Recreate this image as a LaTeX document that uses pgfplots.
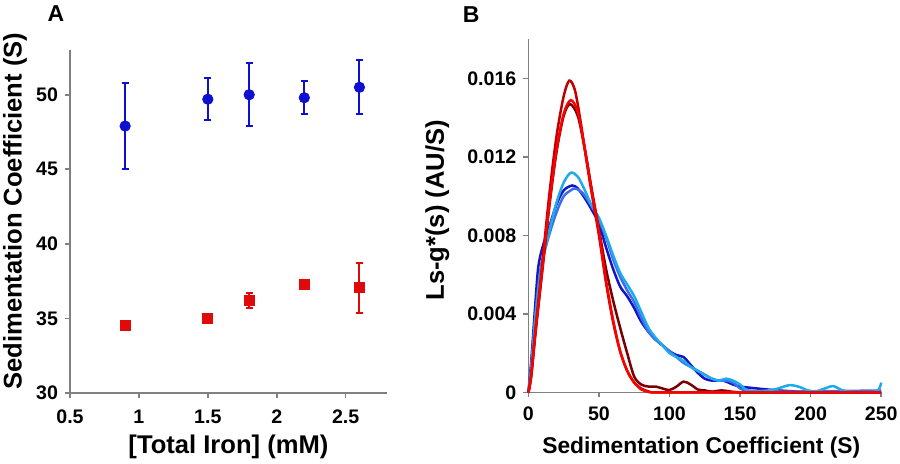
\documentclass[border=0pt]{standalone}
\usepackage{fontspec}
\setmainfont{Liberation Sans}
\usepackage{pgfplots}
\pgfplotsset{compat=1.18}

\definecolor{ptblue}{RGB}{15,15,210}
\definecolor{ptred}{RGB}{225,10,10}
\definecolor{crimson}{RGB}{190,0,0}
\definecolor{brightred}{RGB}{250,0,0}
\definecolor{maroon}{RGB}{120,0,0}
\definecolor{skyblue}{RGB}{30,170,235}
\definecolor{deepblue}{RGB}{20,20,200}
\definecolor{midblue}{RGB}{60,110,235}

\pgfplotsset{
  panel/.style={
    scale only axis, anchor=south west,
    axis lines*=left,
    axis line style={-, gray, line width=0.8pt},
    tick align=outside, major tick length=2.5pt,
    tick style={gray, line width=0.8pt},
    tick label style={font=\fontsize{9.8}{10}\selectfont\bfseries, black},
    /pgf/number format/assume math mode=true,
    label style={font=\fontsize{12.8}{13}\selectfont\bfseries},
    clip=false,
  },
}

\begin{document}
\begin{tikzpicture}
\path[use as bounding box] (0,0) rectangle (450pt,232pt);

% panel A
\begin{axis}[panel,
  at={(35pt,35.5pt)}, width=158.5pt, height=171.5pt,
  xmin=0.5, xmax=2.8, ymin=30, ymax=53,
  xtick={0.5,1,1.5,2,2.5}, xticklabels={0.5,1,1.5,2,2.5},
  ytick={30,35,40,45,50}, yticklabels={30,35,40,45,50},
  xticklabel style={yshift=-2.5pt},
  xlabel={[Total Iron] (mM)},
  ylabel={Sedimentation Coefficient (S)},
  xlabel style={at={(axis description cs:0.5,-0.157)}, anchor=center},
  ylabel style={at={(axis description cs:-0.1735,0.53)}, anchor=center},
]
\addplot[only marks, mark=*, mark size=2.6pt, color=ptblue,
  error bars/.cd, y dir=both, y explicit,
  error bar style={line width=1pt, ptblue},
  error mark options={rotate=90, mark size=1.8pt, line width=1pt, ptblue}]
  coordinates {
  (0.9,47.9) +- (0,2.9)
  (1.5,49.7) +- (0,1.4)
  (1.8,50.0) +- (0,2.1)
  (2.2,49.8) +- (0,1.1)
  (2.6,50.5) +- (0,1.8)
};
\addplot[only marks, mark=square*, mark size=2.5pt, color=ptred,
  error bars/.cd, y dir=both, y explicit,
  error bar style={line width=1pt, ptred},
  error mark options={rotate=90, mark size=1.8pt, line width=1pt, ptred}]
  coordinates {
  (0.9,34.5) +- (0,0.15)
  (1.5,35.0) +- (0,0.1)
  (1.8,36.2) +- (0,0.5)
  (2.2,37.3) +- (0,0.2)
  (2.6,37.05) +- (0,1.7)
};
\node[font=\fontsize{11.5}{12}\selectfont\bfseries] at (axis description cs:-0.044,1.105) {A};
\end{axis}

% panel B
\begin{axis}[panel,
  at={(264.2pt,35.8pt)}, width=176.4pt, height=176.5pt,
  xmin=0, xmax=250, ymin=0, ymax=0.018,
  xtick={0,50,100,150,200,250}, xticklabels={0,50,100,150,200,250},
  ytick={0,0.004,0.008,0.012,0.016}, yticklabels={0,0.004,0.008,0.012,0.016},
  scaled y ticks=false,
  xticklabel style={yshift=-1pt},
  xlabel={Sedimentation Coefficient (S)},
  ylabel={Ls-g*(s) (AU/S)},
  xlabel style={at={(axis description cs:0.49,-0.156)}, anchor=center,
    font=\fontsize{11.4}{12}\selectfont\bfseries},
  ylabel style={at={(axis description cs:-0.258,0.516)}, anchor=center},
  every axis plot/.append style={smooth, line width=1.25pt, no marks},
]
\addplot[deepblue] coordinates {
  (0,0) (2,0.0016) (5,0.0046) (7,0.0064) (10,0.0074) (15,0.0085) (20,0.0096)
  (25,0.0103) (31,0.01055) (35,0.0104) (40,0.0099) (45,0.0093) (50,0.0086)
  (55,0.0074) (60,0.0063) (65,0.0054) (70,0.0049) (75,0.0043) (80,0.0036)
  (85,0.0031) (90,0.0027) (95,0.0024) (100,0.0021) (105,0.0019) (110,0.0018)
  (115,0.0014) (120,0.0010) (125,0.0007) (130,0.0006) (138,0.0006) (145,0.0004)
  (150,0.0003) (162,0.0002) (174,0.00012) (190,0.00005) (220,0.00004) (250,0.00005)
};
\addplot[midblue] coordinates {
  (0,0) (2,0.0013) (5,0.0040) (8,0.0060) (10,0.0068) (15,0.0081) (20,0.0092)
  (25,0.0100) (30,0.0103) (33,0.0104) (38,0.0102) (43,0.0097) (48,0.0091)
  (55,0.0079) (60,0.0068) (65,0.0059) (70,0.0052) (75,0.0046) (80,0.0038)
  (85,0.0031) (90,0.0027) (95,0.0024) (100,0.0021) (105,0.0018) (110,0.0015)
  (115,0.0013) (120,0.0011) (125,0.0009) (130,0.0007) (135,0.0006) (140,0.0006)
  (145,0.0005) (150,0.0002) (155,0.0001) (170,0.00005) (200,0.00005) (250,0.0001)
};
\addplot[skyblue] coordinates {
  (0,0) (2,0.0012) (5,0.0038) (8,0.0058) (10,0.0067) (15,0.0083) (20,0.0097)
  (25,0.0107) (30,0.0112) (35,0.0110) (40,0.0103) (45,0.0095) (50,0.0089)
  (55,0.0080) (60,0.0070) (65,0.0061) (70,0.0055) (75,0.0049) (80,0.0041)
  (85,0.0033) (90,0.0028) (95,0.0024) (100,0.0020) (105,0.0018) (110,0.0016)
  (115,0.0013) (120,0.0011) (125,0.0009) (130,0.0007) (135,0.0006) (140,0.0007)
  (145,0.0006) (150,0.0004) (155,0.0001) (162,0.00006) (170,0.0001) (177,0.0002)
  (185,0.00037) (192,0.00028) (198,0.0001) (204,0.00006) (210,0.0002) (216,0.00032)
  (222,0.00012) (228,0.00003) (235,0) (247,0.00006) (250,0.0005)
};
\addplot[maroon] coordinates {
  (0,0) (2,0.0008) (5,0.0030) (10,0.0063) (15,0.0096) (20,0.0123) (25,0.0141)
  (29.5,0.0147) (35,0.0141) (40,0.0124) (45,0.0103) (50,0.0083) (55,0.0063)
  (60,0.0047) (65,0.0033) (70,0.0020) (75,0.0008) (80,0.0004) (85,0.0003)
  (90,0.0003) (95,0.0002) (100,0.00012) (105,0.0003) (110,0.00055) (115,0.0004)
  (120,0.00015) (125,0.0001) (130,0.00004) (137,0.0001) (145,0.00003) (155,0)
  (200,0) (250,0)
};
\addplot[crimson] coordinates {
  (0,0) (2,0.0009) (5,0.0032) (10,0.0067) (15,0.0102) (20,0.0131) (25,0.0151)
  (29,0.0159) (33,0.0154) (37,0.0138) (41,0.0119) (45,0.0101) (50,0.0080)
  (55,0.0056) (60,0.0036) (65,0.0021) (70,0.0011) (75,0.0005) (80,0.0002)
  (85,0.00005) (90,0) (120,0) (180,0) (250,0)
};
\addplot[brightred] coordinates {
  (0,0) (2,0.0009) (5,0.0031) (10,0.0064) (15,0.0097) (20,0.0124) (25,0.0142)
  (30,0.0149) (35,0.0143) (40,0.0124) (45,0.0102) (50,0.0082) (55,0.0057)
  (60,0.0037) (65,0.0021) (70,0.0011) (75,0.0005) (80,0.00015) (85,0.00003)
  (90,0) (120,0) (180,0) (250,0)
};
\node[font=\fontsize{11.5}{12}\selectfont\bfseries] at (axis description cs:-0.162,1.069) {B};
\end{axis}
\end{tikzpicture}
\end{document}
